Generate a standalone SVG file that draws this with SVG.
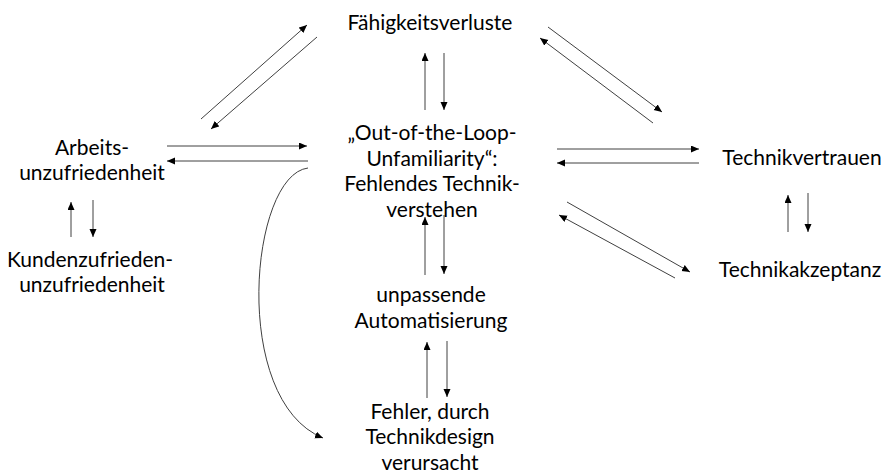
<svg xmlns="http://www.w3.org/2000/svg" width="885" height="476" viewBox="0 0 885 476">
<style>
text{font-family:Lato,"Liberation Sans",sans-serif;font-size:21px;fill:#000;text-anchor:middle}
.c{stroke:#404040;stroke-width:1;fill:none;marker-end:url(#ah)}
</style>
<defs>
<marker id="ah" markerUnits="userSpaceOnUse" markerWidth="9" markerHeight="8" refX="8" refY="3.5" orient="auto">
<path d="M0,0 L8,3.5 L0,7 z" fill="#000"/>
</marker>
</defs>
<rect width="885" height="476" fill="#fff"/>
<g id="connectors">
<line class="c" x1="201" y1="119" x2="307" y2="25"/>
<line class="c" x1="317" y1="37" x2="211" y2="129"/>
<line class="c" x1="548" y1="27" x2="662" y2="112"/>
<line class="c" x1="653" y1="123" x2="540" y2="38"/>
<line class="c" x1="557" y1="149" x2="699" y2="149"/>
<line class="c" x1="699" y1="163" x2="557" y2="163"/>
<line class="c" x1="567" y1="202" x2="690" y2="272"/>
<line class="c" x1="675" y1="278" x2="559" y2="215"/>
<line class="c" x1="167" y1="146" x2="307" y2="146"/>
<line class="c" x1="308" y1="161" x2="167" y2="161"/>
<line class="c" x1="71" y1="237" x2="71" y2="202"/>
<line class="c" x1="93" y1="200" x2="93" y2="237"/>
<line class="c" x1="425" y1="110" x2="425" y2="53"/>
<line class="c" x1="444" y1="53" x2="444" y2="110"/>
<line class="c" x1="425" y1="275" x2="425" y2="217"/>
<line class="c" x1="444" y1="215" x2="444" y2="274"/>
<line class="c" x1="427" y1="398" x2="427" y2="342"/>
<line class="c" x1="447" y1="341" x2="447" y2="397"/>
<line class="c" x1="788" y1="232" x2="788" y2="195"/>
<line class="c" x1="808" y1="193" x2="808" y2="232"/>
<path class="c" d="M308,168 C250,175 230,400 323,438"/>
</g>
<g id="faehigkeitsverluste"><text x="430" y="30">Fähigkeitsverluste</text></g>
<g id="ootl"><text x="432" y="140">„Out-of-the-Loop-</text><text x="432" y="165.5">Unfamiliarity“:</text><text x="432" y="191">Fehlendes Technik-</text><text x="432" y="216.5">verstehen</text></g>
<g id="arbeitsunzufriedenheit"><text x="92" y="155">Arbeits-</text><text x="92" y="180">unzufriedenheit</text></g>
<g id="kundenzufriedenheit"><text x="90" y="267">Kundenzufrieden-</text><text x="92" y="292">unzufriedenheit</text></g>
<g id="technikvertrauen"><text x="802" y="165">Technikvertrauen</text></g>
<g id="technikakzeptanz"><text x="800" y="277">Technikakzeptanz</text></g>
<g id="unpassende"><text x="431" y="302">unpassende</text><text x="431" y="328">Automatisierung</text></g>
<g id="fehler"><text x="430" y="419">Fehler, durch</text><text x="430" y="444">Technikdesign</text><text x="430" y="470">verursacht</text></g>
</svg>
